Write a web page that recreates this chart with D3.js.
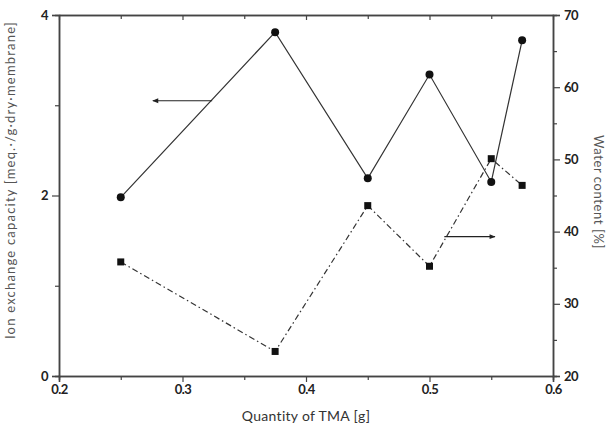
<!DOCTYPE html>
<html>
<head>
<meta charset="utf-8">
<script src="https://cdn.jsdelivr.net/npm/d3@7"></script>
<style>
  body { margin: 0; background: #fff; }
  text { font-family: "Lato", "DejaVu Sans", sans-serif; }
</style>
</head>
<body>
<div id="wrapper"></div>
<script>
// data
const tmaQuantity = [0.25, 0.375, 0.45, 0.5, 0.55, 0.575];
const ionExchange = [1.98, 3.81, 2.19, 3.34, 2.15, 3.72];
const waterContent = [35.8, 23.4, 43.6, 35.2, 50.1, 46.4];

const xTicks = [0.2, 0.3, 0.4, 0.5, 0.6];
const xMinorTicks = [0.25, 0.35, 0.45, 0.55];
const leftTicks = [0, 2, 4];
const leftMinorTicks = [1, 3];
const rightTicks = [20, 30, 40, 50, 60, 70];
const rightMinorTicks = [25, 35, 45, 55, 65];

// annotation arrows (data coordinates)
const ionArrow = { from: [0.324, 3.05], to: [0.276, 3.05] };
const waterArrow = { from: [0.512, 39.3], to: [0.553, 39.3] };

const dims = {
  width: 616,
  height: 428,
  margin: { top: 15, right: 63, bottom: 52, left: 59 },
};
dims.boundedWidth = dims.width - dims.margin.left - dims.margin.right;
dims.boundedHeight = dims.height - dims.margin.top - dims.margin.bottom;

const svg = d3.select("#wrapper").append("svg")
  .attr("width", dims.width)
  .attr("height", dims.height);

// arrowhead marker
svg.append("defs").append("marker")
  .attr("id", "head")
  .attr("viewBox", "0 0 10 10")
  .attr("refX", 9).attr("refY", 5)
  .attr("markerWidth", 7).attr("markerHeight", 6)
  .attr("markerUnits", "userSpaceOnUse")
  .attr("orient", "auto")
  .append("path")
  .attr("d", "M0,1 L10,5 L0,9 Z")
  .attr("fill", "#222");

const bounds = svg.append("g")
  .attr("transform", `translate(${dims.margin.left},${dims.margin.top})`);

const xScale = d3.scaleLinear().domain([0.2, 0.6]).range([0, dims.boundedWidth]);
const yLeft = d3.scaleLinear().domain([0, 4]).range([dims.boundedHeight, 0]);
const yRight = d3.scaleLinear().domain([20, 70]).range([dims.boundedHeight, 0]);

const axisColor = "#444";
function styleAxis(g) {
  g.select(".domain").attr("stroke", axisColor).attr("stroke-width", 1.5);
  g.selectAll(".tick line").attr("stroke", axisColor).attr("stroke-width", 1.2);
  g.selectAll(".tick text")
    .attr("fill", "#222")
    .style("font-size", "13px")
    .style("font-weight", "bold")
    .style("letter-spacing", "-0.5px");
}

// minor ticks first (no labels)
bounds.append("g")
  .attr("transform", `translate(0,${dims.boundedHeight})`)
  .call(d3.axisBottom(xScale).tickValues(xMinorTicks).tickSize(4).tickFormat(""))
  .call(styleAxis);
bounds.append("g")
  .call(d3.axisTop(xScale).tickValues(xMinorTicks).tickSizeInner(-4).tickSizeOuter(0).tickFormat(""))
  .call(styleAxis);
bounds.append("g")
  .call(d3.axisLeft(yLeft).tickValues(leftMinorTicks).tickSize(4).tickFormat(""))
  .call(styleAxis);
bounds.append("g")
  .attr("transform", `translate(${dims.boundedWidth},0)`)
  .call(d3.axisRight(yRight).tickValues(rightMinorTicks).tickSize(4).tickFormat(""))
  .call(styleAxis);

// major ticks
bounds.append("g")
  .attr("transform", `translate(0,${dims.boundedHeight})`)
  .call(d3.axisBottom(xScale).tickValues(xTicks).tickSize(6).tickPadding(3).tickFormat(d3.format(".1f")))
  .call(styleAxis);
bounds.append("g")
  .call(d3.axisTop(xScale).tickValues(xTicks).tickSizeInner(-5).tickSizeOuter(0).tickFormat(""))
  .call(styleAxis);
bounds.append("g")
  .call(d3.axisLeft(yLeft).tickValues(leftTicks).tickSize(7).tickPadding(4).tickFormat(d3.format("d")))
  .call(styleAxis);
bounds.append("g")
  .attr("transform", `translate(${dims.boundedWidth},0)`)
  .call(d3.axisRight(yRight).tickValues(rightTicks).tickSize(7).tickPadding(4).tickFormat(d3.format("d")))
  .call(styleAxis);

const rows = tmaQuantity.map((q, i) => ({ q, ion: ionExchange[i], water: waterContent[i] }));

// ion exchange capacity: solid line, circles
bounds.append("path")
  .attr("d", d3.line().x(d => xScale(d.q)).y(d => yLeft(d.ion))(rows))
  .attr("fill", "none")
  .attr("stroke", "#333")
  .attr("stroke-width", 1.2);
bounds.selectAll(".ion").data(rows).join("circle")
  .attr("class", "ion")
  .attr("cx", d => xScale(d.q))
  .attr("cy", d => yLeft(d.ion))
  .attr("r", 4)
  .attr("fill", "#111");

// water content: dash-dot line, squares
bounds.append("path")
  .attr("d", d3.line().x(d => xScale(d.q)).y(d => yRight(d.water))(rows))
  .attr("fill", "none")
  .attr("stroke", "#333")
  .attr("stroke-width", 1.2)
  .attr("stroke-dasharray", "6,3,1.5,3");
const sq = 7;
bounds.selectAll(".water").data(rows).join("rect")
  .attr("class", "water")
  .attr("x", d => xScale(d.q) - sq / 2)
  .attr("y", d => yRight(d.water) - sq / 2)
  .attr("width", sq)
  .attr("height", sq)
  .attr("fill", "#111");

// arrows pointing to each series' axis
bounds.append("line")
  .attr("x1", xScale(ionArrow.from[0])).attr("y1", yLeft(ionArrow.from[1]))
  .attr("x2", xScale(ionArrow.to[0])).attr("y2", yLeft(ionArrow.to[1]))
  .attr("stroke", "#222").attr("stroke-width", 1.2)
  .attr("marker-end", "url(#head)");
bounds.append("line")
  .attr("x1", xScale(waterArrow.from[0])).attr("y1", yRight(waterArrow.from[1]))
  .attr("x2", xScale(waterArrow.to[0])).attr("y2", yRight(waterArrow.to[1]))
  .attr("stroke", "#222").attr("stroke-width", 1.2)
  .attr("marker-end", "url(#head)");

// axis titles
const titleColor = "#555";
svg.append("text")
  .attr("x", dims.margin.left + dims.boundedWidth / 2)
  .attr("y", 421)
  .attr("text-anchor", "middle")
  .attr("fill", "#333")
  .style("font-size", "14px")
  .style("letter-spacing", "0.3px")
  .text("Quantity of TMA [g]");

svg.append("text")
  .attr("transform", `translate(15,${dims.margin.top + 165}) rotate(-90)`)
  .attr("text-anchor", "middle")
  .attr("fill", titleColor)
  .style("font-size", "13px")
  .style("letter-spacing", "1.2px")
  .text("Ion exchange capacity [meq.·/g·dry·membrane]");

svg.append("text")
  .attr("transform", `translate(594,192) rotate(90)`)
  .attr("text-anchor", "middle")
  .attr("fill", titleColor)
  .style("font-size", "13px")
  .style("letter-spacing", "0.6px")
  .text("Water content [%]");
</script>
</body>
</html>
